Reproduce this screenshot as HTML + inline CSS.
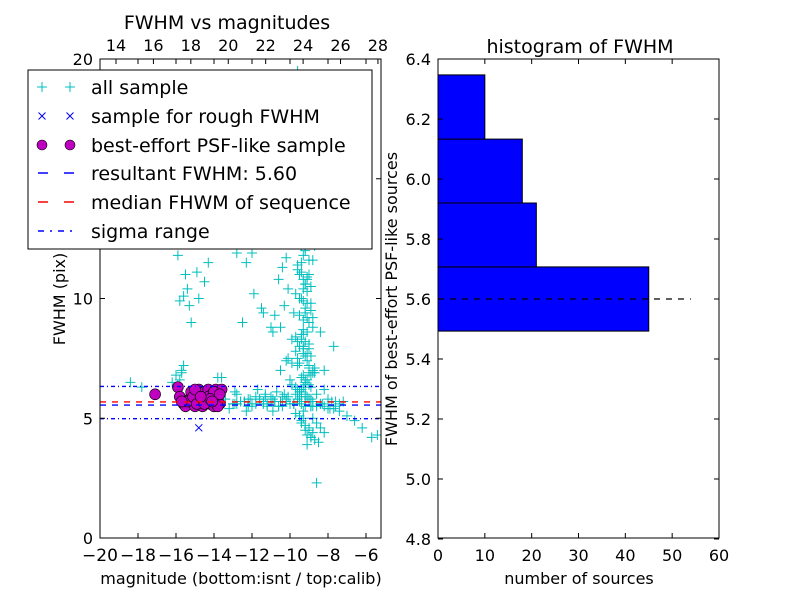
<!DOCTYPE html>
<html><head><meta charset="utf-8"><style>
body{margin:0;background:#fff;}
svg text{font-family:"DejaVu Sans","Liberation Sans",sans-serif;fill:#000;}
</style></head><body>
<svg id="fig" width="800" height="600" xmlns="http://www.w3.org/2000/svg">
<rect width="800" height="600" fill="#fff"/>
<g id="left"></g>
<g id="right"></g>
</svg>
<script>
// ---- scatter data ----
const allMag = [-9.6,-9.4,-9.2,-9.3,-9.5,-9.1,-9.0,-9.7,-8.9,-9.4,-9.2,-9.8,-9.3,-9.4,-9.1,-9.0,-9.5,-9.2,-9.3,-9.6,
-9.4,-9.1,-8.9,-9.7,-9.3,-9.2,-9.5,-9.0,-8.8,-9.4,-9.2,-9.3,-9.1,-9.6,-9.9,-9.0,-8.7,-9.4,-9.2,-9.3,
-9.5,-9.1,-9.0,-8.9,-9.8,-10.0,-10.2,-10.4,-10.6,-10.1,-10.3,-10.8,-11.0,-9.9,-9.7,-10.2,-10.5,-10.0,-9.6,-9.3,
-8.8,-8.6,-8.4,-8.2,-9.0,-9.2,-9.4,-9.1,-8.9,-8.7,-8.5,-9.5,-9.7,-9.3,-9.0,-8.8,-9.1,-9.4,-9.2,-8.9,
-13.4,-13.0,-12.6,-12.2,-11.8,-11.4,-11.0,-10.6,-10.2,-9.8,-9.4,-13.2,-12.8,-12.4,-12.0,-11.6,-11.2,-10.8,-10.4,-10.0,
-9.6,-9.2,-8.8,-8.4,-8.0,-7.6,-7.2,-12.9,-11.7,-10.9,-10.3,-9.7,-8.6,-7.9,-7.4,-11.3,-10.7,-12.3,-9.9,-8.2,
-7.0,-6.6,-6.2,-5.7,-7.7,-8.4,-8.8,-9.1,-9.3,-9.5,-9.0,-8.7,-8.9,-8.2,-11.5,-12.5,-10.5,-9.4,-12.0,-13.6,
-15.9,-16.0,-15.7,-15.2,-14.8,-14.5,-15.5,-15.9,-15.8,-15.6,-15.4,-14.9,-14.3,-13.8,-15.3,-15.8,-15.7,-15.6,-14.6,-16.2,
-17.8,-18.4,-12.8,-12.3,-11.9,-11.4,-10.9,-10.1,-9.6,-9.3,-8.6,-8.9,-9.1,-9.3,-9.4,-9.2,-8.8,-9.0,-5.4,-8.8,
-9.6,-9.4,-9.2,-9.1,-9.8,-9.3,-9.0,-9.5,-8.9,-9.2,-9.4,-9.1,-9.7,-9.3,-9.0,-9.6,-9.2,-9.4,-8.9,-9.1,
-9.3,-9.1,-9.4,-9.0,-9.2,-9.5,-8.9,-9.3,-9.1,-9.4,-9.0,-9.2,-9.6,-8.8,-9.3,-9.1,-9.0,-9.4,-9.2,-8.9,
-9.3,-9.5,-9.1,-9.0,-9.2,-9.4,-8.8,-9.3,-9.1,-8.9,-9.2,-9.0,-9.3,-9.5,-9.1,-8.7,-9.0,-9.2,-8.9,-9.4,
-12.8,-12.4,-12.0,-11.6,-11.2,-10.8,-10.4,-10.0,-9.6,-9.2,-8.8,-8.4,-8.0,-7.6,-13.0,-12.2,-11.4,-10.6,-9.8,-9.0,
-8.2,-7.8,-7.4,-11.0,-10.2,-9.4,-8.6,-12.6,-11.8,-10.9,-10.1,-9.5,-8.9,-8.3,-7.7,-12.9,-12.1,-11.3,-10.5,-9.7];
const allFwhm = [19.5,19.0,18.6,17.8,17.3,16.8,16.2,16.0,15.5,15.0,14.6,14.2,13.8,13.5,13.1,12.7,12.4,12.1,11.8,11.4,
11.1,10.8,10.5,10.2,9.9,9.6,9.3,9.0,8.8,8.5,8.2,8.0,7.7,7.5,7.3,7.1,6.9,6.7,6.5,6.3,
6.1,5.9,5.7,5.5,12.9,12.3,11.7,11.3,10.8,10.4,9.7,9.3,8.8,8.3,7.8,7.4,7.0,6.6,6.2,5.3,
5.0,4.8,4.6,4.4,4.5,4.7,4.9,4.3,4.2,4.1,4.0,5.1,5.2,5.0,4.6,4.4,3.9,4.8,4.5,4.2,
5.8,5.6,5.7,5.5,5.9,5.6,5.8,5.5,5.7,5.6,5.9,5.4,6.0,5.7,5.6,5.8,5.5,5.7,5.9,5.6,
5.8,5.5,5.7,5.6,5.8,5.5,5.7,6.1,6.2,5.3,6.0,6.3,6.0,5.4,5.3,6.0,6.1,5.3,6.4,6.2,
5.1,4.9,4.6,4.2,8.0,8.6,9.2,9.8,10.4,11.0,11.6,12.2,7.6,7.0,9.6,9.0,8.8,12.6,11.9,6.7,
6.4,6.8,7.0,9.0,10.0,10.7,11.0,11.8,9.9,10.1,10.4,11.1,11.5,6.7,9.7,6.6,6.9,7.2,6.1,6.5,
6.3,6.5,11.9,11.5,10.2,9.4,8.6,7.5,8.2,7.7,2.3,19.3,18.4,17.0,15.8,14.6,13.4,12.6,4.3,6.9,
14.8,13.2,12.0,10.9,9.4,8.7,8.1,7.3,6.8,6.4,10.0,9.2,8.4,7.9,7.2,11.2,10.6,15.3,16.5,14.0,
13.0,12.5,11.5,11.0,10.6,10.0,9.5,9.1,8.6,8.3,7.9,7.6,7.2,7.0,6.8,6.6,6.4,6.2,6.0,5.8,
16.5,15.2,14.4,13.6,12.8,12.2,11.6,10.8,10.3,9.8,9.4,9.0,8.5,8.0,7.4,7.1,6.9,6.6,6.3,6.1,
5.6,5.7,5.5,5.8,5.6,5.7,5.5,5.6,5.8,5.7,5.5,5.6,5.4,5.7,5.6,5.8,5.7,5.5,5.6,5.8,
5.5,5.7,5.6,5.9,5.8,5.6,5.5,5.7,5.6,5.8,5.9,5.7,5.5,5.6,5.4,5.6,5.8,5.9,5.7,6.0];
const roughMag = [-14.8];
const roughFwhm = [4.6];
const bestMag = [-17.1,-15.9,-15.8,-15.6,-15.5,-15.3,-15.2,-15.0,-14.9,-14.8,-14.7,-14.6,-14.5,-14.4,-14.3,-14.2,-14.1,-14.0,-13.9,-13.8,-13.7,-13.6,-15.4,-15.1,-14.9,-14.6,-14.3,-14.0,-13.8,-15.0,-14.5,-14.2,-13.7,-15.7,-14.7,-14.1];
const bestFwhm = [6.0,6.3,5.9,5.6,5.5,5.8,6.1,5.5,6.0,6.2,5.7,5.5,6.1,5.8,6.2,5.6,6.0,5.5,6.2,5.7,5.6,6.2,5.7,5.9,5.6,5.8,5.9,6.1,5.5,6.2,5.6,5.8,6.0,5.7,5.9,5.7];
const resultFwhm = 5.55, medianFwhm = 5.68, sigmaLo = 4.98, sigmaHi = 6.33;
const xTicks = [-20,-18,-16,-14,-12,-10,-8,-6];
const topTicks = [14,16,18,20,22,24,26,28];
const yTicks = [0,5,10,15,20];
// ---- histogram data ----
const binEdges = [5.493,5.707,5.920,6.133,6.347];
const binCounts = [45,21,18,10];
const histXTicks = [0,10,20,30,40,50,60];
const histYTicks = [4.8,5.0,5.2,5.4,5.6,5.8,6.0,6.2,6.4];

const NS="http://www.w3.org/2000/svg";
function mk(parent,tag,attrs,txt){const e=document.createElementNS(NS,tag);for(const k in attrs)e.setAttribute(k,attrs[k]);if(txt!==undefined)e.textContent=txt;parent.appendChild(e);return e;}
const L=document.getElementById('left'), R=document.getElementById('right');
const lx0=100,lx1=381,ly0=59,ly1=538;
const X=v=>lx0+(v+20)*19; const Y=v=>ly1-v*23.95; const TX=v=>116+(v-14)*18.71;
const defs=mk(L,'defs',{});const cp=mk(defs,'clipPath',{id:'lc'});mk(cp,'rect',{x:lx0,y:ly0,width:lx1-lx0,height:ly1-ly0});
const plot=mk(L,'g',{'clip-path':'url(#lc)'});


for(let i=0;i<allMag.length;i++){const x=X(allMag[i]),y=Y(allFwhm[i]);
 const p=mk(plot,'path',{d:`M${x-5},${y}H${x+5}M${x},${y-5}V${y+5}`,stroke:'#00bfbf','stroke-width':1});
 
 }
for(let i=0;i<roughMag.length;i++){const x=X(roughMag[i]),y=Y(roughFwhm[i]);
 const p=mk(plot,'path',{d:`M${x-3.5},${y-3.5}L${x+3.5},${y+3.5}M${x-3.5},${y+3.5}L${x+3.5},${y-3.5}`,stroke:'#0000ff','stroke-width':1});
 
 }
for(let i=0;i<bestMag.length;i++){const c=mk(plot,'circle',{cx:X(bestMag[i]),cy:Y(bestFwhm[i]),r:5.5,fill:'#bf00bf',stroke:'#000','stroke-width':0.6});
 
 }
function hline(v,col,dash,name){const l=mk(plot,'line',{x1:lx0,x2:lx1,y1:Y(v),y2:Y(v),stroke:col,'stroke-width':1.4,'stroke-dasharray':dash});
 }
hline(sigmaHi,'#0000ff','4,3,1,3','sigma-upper-line');
hline(sigmaLo,'#0000ff','4,3,1,3','sigma-lower-line');
hline(medianFwhm,'#ff0000','6,6','median-line');
hline(resultFwhm,'#0000ff','6,6','resultant-fwhm-line');
mk(L,'rect',{x:lx0,y:ly0,width:lx1-lx0,height:ly1-ly0,fill:'none',stroke:'#000'});
xTicks.forEach(t=>{const x=X(t);mk(L,'path',{d:`M${x},${ly1}v-5M${x},${ly0}v5`,stroke:'#000'});
 const tx=mk(L,'text',{x:x,y:561,'text-anchor':'middle','font-size':17},(t<0?'\u2212'+(-t):t));
 });
topTicks.forEach(t=>{const x=TX(t);mk(L,'path',{d:`M${x},${ly0}v5`,stroke:'#000'});
 const tx=mk(L,'text',{x:x,y:51,'text-anchor':'middle','font-size':16},t);
 });
yTicks.forEach(t=>{const y=Y(t);mk(L,'path',{d:`M${lx0},${y}h5M${lx1},${y}h-5`,stroke:'#000'});
 const tx=mk(L,'text',{x:93,y:y+6,'text-anchor':'end','font-size':16},t);
 });
const rx0=438,rx1=719;
const HX=v=>rx0+v*(rx1-rx0)/60; const HY=v=>ly0+(6.4-v)*300;
binCounts.forEach((c,i)=>{const r=mk(R,'rect',{x:rx0,y:HY(binEdges[i+1]),width:HX(c)-rx0,height:HY(binEdges[i])-HY(binEdges[i+1]),fill:'#0000ff',stroke:'#000','stroke-width':1});
 });
const hl=mk(R,'line',{x1:rx0,x2:HX(54),y1:HY(5.6),y2:HY(5.6),stroke:'#000','stroke-dasharray':'6,6','stroke-width':1.2});

mk(R,'rect',{x:rx0,y:ly0,width:rx1-rx0,height:ly1-ly0,fill:'none',stroke:'#000'});
histXTicks.forEach(t=>{const x=HX(t);mk(R,'path',{d:`M${x},${ly1}v-5M${x},${ly0}v5`,stroke:'#000'});
 const tx=mk(R,'text',{x:x,y:561,'text-anchor':'middle','font-size':16},t);
 });
histYTicks.forEach(t=>{const y=HY(t);mk(R,'path',{d:`M${rx0},${y}h5M${rx1},${y}h-5`,stroke:'#000'});
 const tx=mk(R,'text',{x:431,y:y+6,'text-anchor':'end','font-size':16},t.toFixed(1));
 });
</script>
<svg style="position:absolute;left:0;top:0" width="800" height="600">
<text x="227" y="29" text-anchor="middle" font-size="19">FWHM vs magnitudes</text>
<text x="580" y="53" text-anchor="middle" font-size="19">histogram of FWHM</text>
<text x="241" y="584" text-anchor="middle" font-size="16">magnitude (bottom:isnt / top:calib)</text>
<text transform="translate(65,299) rotate(-90)" text-anchor="middle" font-size="16">FWHM (pix)</text>
<text x="579" y="584" text-anchor="middle" font-size="16">number of sources</text>
<text transform="translate(397,299) rotate(-90)" text-anchor="middle" font-size="16">FWHM of best-effort PSF-like sources</text>
<g>
<rect x="28" y="70" width="344" height="179" fill="#fff" stroke="#000"/>
<g><path d="M37,87h10M42,82v10M65,87h10M70,82v10" stroke="#00bfbf"/><text x="91" y="94" font-size="19">all sample</text></g>
<g><path d="M38.5,112.5l7,7M38.5,119.5l7,-7M66.5,112.5l7,7M66.5,119.5l7,-7" stroke="#0000ff"/><text x="91" y="123" font-size="19">sample for rough FWHM</text></g>
<g><circle cx="42" cy="145" r="5" fill="#bf00bf" stroke="#000" stroke-width="0.6"/><circle cx="70" cy="145" r="5" fill="#bf00bf" stroke="#000" stroke-width="0.6"/><text x="91" y="152" font-size="19">best-effort PSF-like sample</text></g>
<g><path d="M38,173h10M64,173h10" stroke="#0000ff" stroke-width="1.4"/><text x="91" y="180" font-size="19">resultant FWHM: 5.60</text></g>
<g><path d="M38,202h10M64,202h10" stroke="#ff0000" stroke-width="1.4"/><text x="91" y="209" font-size="19">median FHWM of sequence</text></g>
<g><path d="M38,231h6M50,231h2M58,231h6M70,231h2" stroke="#0000ff" stroke-width="1.4"/><text x="91" y="238" font-size="19">sigma range</text></g>
</g>
</svg>
</body></html>
